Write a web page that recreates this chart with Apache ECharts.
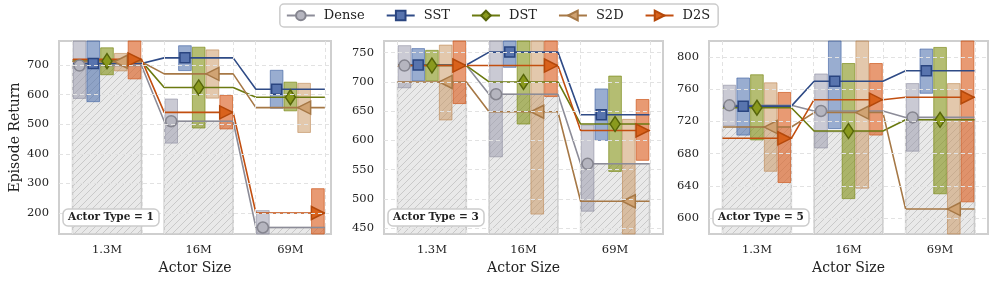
<!DOCTYPE html>
<html><head><meta charset="utf-8">
<script src="https://cdn.jsdelivr.net/npm/echarts@6/dist/echarts.min.js"></script>
<style>html,body{margin:0;padding:0;background:#fff}#c{width:996px;height:283px}</style>
</head><body><div id="c"></div>
<script>
// ---------------- data ----------------
const categories = ['1.3M', '16M', '69M'];
const methods = ['Dense', 'SST', 'DST', 'S2D', 'D2S'];
const actorTypes = ['Actor Type = 1', 'Actor Type = 3', 'Actor Type = 5'];

// rows follow `methods` order; columns follow `categories`
const type1Mean = [[698, 510, 151], [705, 724, 618], [713, 624, 591], [711, 670, 556], [719, 540, 200]];
const type1Low  = [[587, 436, 100], [576, 681, 554], [667, 487, 545], [680, 588, 472], [653, 484, 100]];
const type1High = [[800, 585, 208], [800, 765, 682], [758, 760, 642], [739, 751, 638], [800, 597, 282]];
const type1Bar  = [698, 510, 151];
const type1Ticks = [200, 300, 400, 500, 600, 700];

const type3Mean = [[728, 679, 560], [729, 751, 644], [728, 700, 628], [700, 649, 496], [728, 728, 617]];
const type3Low  = [[690, 572, 479], [702, 725, 600], [702, 628, 547], [635, 474, 420], [663, 675, 566]];
const type3High = [[762, 790, 626], [757, 790, 688], [754, 790, 710], [763, 790, 636], [790, 790, 670]];
const type3Bar  = [700, 679, 560];
const type3Ticks = [450, 500, 550, 600, 650, 700, 750];

const type5Mean = [[740, 733, 725], [739, 770, 783], [737, 708, 722], [713, 731, 611], [699, 747, 750]];
const type5Low  = [[715, 687, 683], [703, 711, 755], [697, 624, 630], [658, 637, 560], [644, 703, 620]];
const type5High = [[765, 779, 767], [774, 840, 810], [778, 792, 812], [768, 840, 767], [756, 792, 840]];
const type5Bar  = [713, 707, 722];
const type5Ticks = [600, 640, 680, 720, 760, 800];

// ---------------- layout / style ----------------
const FONT = 'DejaVu Serif';
const TXT = '#222';
const HW = 0.376;                       // half width of a category group
const OFF = [-0.3, -0.15, 0, 0.15, 0.3]; // method offsets in a group
const BHW = 0.069;                      // half width of a range box

const styles = [
  {line:'#8c8c98', fill:'#b5b5bf', border:'#85858f', box:'rgba(150,150,170,0.5)', boxBorder:'rgba(135,135,155,0.55)', symbol:'circle', size:11, rotate:0},
  {line:'#2f4b86', fill:'#5874ae', border:'#2a4580', box:'rgba(70,105,170,0.55)', boxBorder:'rgba(60,95,160,0.6)', symbol:'rect', size:10, rotate:0},
  {line:'#6b7a10', fill:'#8a9a1e', border:'#56650a', box:'rgba(130,145,20,0.6)', boxBorder:'rgba(120,135,20,0.65)', symbol:'diamond', size:[10,15], rotate:0},
  {line:'#a67846', fill:'#d0a373', border:'#a67846', box:'rgba(200,145,90,0.5)', boxBorder:'rgba(185,130,75,0.55)', symbol:'triangle', size:13, rotate:90},
  {line:'#c24f10', fill:'#d9621c', border:'#b4480a', box:'rgba(220,100,40,0.65)', boxBorder:'rgba(205,88,30,0.7)', symbol:'triangle', size:13, rotate:-90}
];

const panels = [
  {mean:type1Mean, low:type1Low, high:type1High, bar:type1Bar, ticks:type1Ticks, label:actorTypes[0],
   grid:{left:59, top:41, width:272, height:193}, x:[-0.5235, 2.443], y:[129, 781]},
  {mean:type3Mean, low:type3Low, high:type3High, bar:type3Bar, ticks:type3Ticks, label:actorTypes[1],
   grid:{left:384, top:41, width:279, height:193}, x:[-0.5235, 2.5235], y:[440, 770]},
  {mean:type5Mean, low:type5Low, high:type5High, bar:type5Bar, ticks:type5Ticks, label:actorTypes[2],
   grid:{left:709, top:41, width:279, height:193}, x:[-0.5235, 2.5235], y:[580, 820]}
];

// hatch pattern
const pc = document.createElement('canvas');
pc.width = 7; pc.height = 7;
const g = pc.getContext('2d');
g.fillStyle = '#e9e9e9'; g.fillRect(0, 0, 7, 7);
g.strokeStyle = '#c9c9c9'; g.lineWidth = 1;
g.beginPath();
g.moveTo(-1, 8); g.lineTo(8, -1);
g.moveTo(-1, 1); g.lineTo(1, -1);
g.moveTo(6, 8); g.lineTo(8, 6);
g.stroke();
const hatch = {image: pc, repeat: 'repeat'};

const chart = echarts.init(document.getElementById('c'), null, {renderer: 'canvas'});

const grids = [], xAxes = [], yAxes = [], series = [], titles = [];
const edges = [];
categories.forEach((_, c) => { edges.push(c - HW, c + HW); });

panels.forEach((p, i) => {
  grids.push(Object.assign({show: true, borderColor: '#cfcfcf', borderWidth: 2, backgroundColor: '#fff'}, p.grid));
  xAxes.push({
    type: 'value', gridIndex: i, min: p.x[0], max: p.x[1],
    name: 'Actor Size', nameLocation: 'middle', nameGap: 27,
    nameTextStyle: {fontFamily: FONT, fontSize: 14, color: TXT},
    axisLine: {show: false}, axisTick: {show: false}, splitLine: {show: false},
    axisLabel: {customValues: categories.map((_, c) => c), formatter: v => categories[Math.round(v)],
                fontFamily: FONT, fontSize: 11.5, color: TXT, margin: 10}
  });
  yAxes.push({
    type: 'value', gridIndex: i, min: p.y[0], max: p.y[1],
    name: i === 0 ? 'Episode Return' : '', nameLocation: 'middle', nameGap: 37,
    nameTextStyle: {fontFamily: FONT, fontSize: 14, color: TXT},
    axisLine: {show: false}, axisTick: {show: false}, splitLine: {show: false},
    axisLabel: {customValues: p.ticks, fontFamily: FONT, fontSize: 11.5, color: TXT, margin: 10}
  });
  // grid lines
  series.push({
    type: 'line', xAxisIndex: i, yAxisIndex: i, data: [], z: 0, silent: true,
    markLine: {
      silent: true, symbol: ['none', 'none'], label: {show: false}, animation: false,
      lineStyle: {type: [4, 3], color: '#e2e2e2', width: 1},
      data: p.ticks.map(v => ({yAxis: v})).concat(edges.map(v => ({xAxis: v})))
    }
  });
  // hatched Dense bars
  series.push({
    type: 'custom', xAxisIndex: i, yAxisIndex: i, z: 1, silent: true,
    data: p.bar.map((v, c) => [c, v]),
    renderItem: (params, api) => {
      const c = api.value(0), v = api.value(1);
      const a = api.coord([c - HW, v]);
      const b = api.coord([c + HW, v]);
      const cs = params.coordSys;
      const shape = echarts.graphic.clipRectByRect(
        {x: a[0], y: a[1], width: b[0] - a[0], height: cs.y + cs.height - a[1]},
        {x: cs.x, y: cs.y, width: cs.width, height: cs.height});
      if (!shape) return null;
      return {type: 'rect', shape: shape, style: {fill: hatch, stroke: '#cacaca', lineWidth: 1.5}};
    }
  });
  // range boxes
  const boxData = [];
  methods.forEach((m, k) => categories.forEach((_, c) => boxData.push([c + OFF[k], p.low[k][c], p.high[k][c], k])));
  series.push({
    type: 'custom', xAxisIndex: i, yAxisIndex: i, z: 2, silent: true,
    data: boxData,
    renderItem: (params, api) => {
      const x = api.value(0), lo = api.value(1), hi = api.value(2), k = api.value(3);
      const a = api.coord([x - BHW, hi]);
      const b = api.coord([x + BHW, lo]);
      const cs = params.coordSys;
      const shape = echarts.graphic.clipRectByRect(
        {x: a[0], y: a[1], width: b[0] - a[0], height: b[1] - a[1]},
        {x: cs.x, y: cs.y, width: cs.width, height: cs.height});
      if (!shape) return null;
      return {type: 'rect', shape: shape, style: {fill: styles[k].box, stroke: styles[k].boxBorder, lineWidth: 1}};
    }
  });
  // step lines
  methods.forEach((m, k) => {
    const s = styles[k];
    const d = [];
    categories.forEach((_, c) => {
      d.push({value: [c - HW, p.mean[k][c]], symbol: 'none'});
      d.push({value: [c + OFF[k], p.mean[k][c]], symbol: 'none'});
      d.push({value: [c + HW, p.mean[k][c]], symbol: 'none'});
    });
    series.push({
      type: 'line', name: m, xAxisIndex: i, yAxisIndex: i, z: 3, data: d,
      symbol: s.symbol, symbolSize: s.size, symbolRotate: s.rotate,
      itemStyle: {color: s.fill, borderColor: s.border, borderWidth: 1.5},
      lineStyle: {color: s.line, width: 1.6}, animation: false, silent: true
    });
  });
  // markers
  methods.forEach((m, k) => {
    const s = styles[k];
    series.push({
      type: 'scatter', name: m, xAxisIndex: i, yAxisIndex: i, z: 4,
      data: categories.map((_, c) => [c + OFF[k], p.mean[k][c]]),
      symbol: s.symbol, symbolSize: s.size, symbolRotate: s.rotate,
      itemStyle: {color: s.fill, borderColor: s.border, borderWidth: 1.5, opacity: 1},
      animation: false, silent: true
    });
  });
  titles.push({
    text: p.label, left: p.grid.left + 4, top: 209,
    backgroundColor: '#fff', borderColor: '#cccccc', borderWidth: 1.5, borderRadius: 5,
    padding: [3, 5],
    textStyle: {fontFamily: FONT, fontSize: 10.5, fontWeight: 'bold', color: TXT}
  });
});

chart.setOption({
  animation: false,
  title: titles,
  legend: {
    data: methods, top: 4, left: 'center',
    borderColor: '#cccccc', borderWidth: 1.5, borderRadius: 4, padding: [5, 8, 5, 6],
    itemWidth: 28, itemHeight: 12, itemGap: 21,
    textStyle: {fontFamily: FONT, fontSize: 13, color: TXT, padding: [0, 0, 0, 4]}
  },
  grid: grids, xAxis: xAxes, yAxis: yAxes, series: series
});
</script></body></html>
